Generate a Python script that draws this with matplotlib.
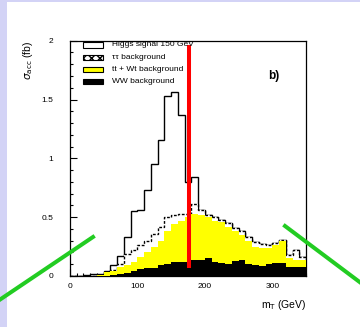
import numpy as np
import matplotlib
matplotlib.use("Agg")
import matplotlib.pyplot as plt
from matplotlib.patches import Rectangle
from matplotlib.lines import Line2D
from matplotlib.ticker import MultipleLocator

plt.rcParams['font.family'] = ['Liberation Sans', 'DejaVu Sans']

# transverse-mass bins (GeV)
bin_edges = np.arange(0, 351, 10)

# accepted cross sections per bin (fb), one array per process
ww_bkg = [0, 0, 0, 0, 0, 0, 0.005, 0.02, 0.025, 0.04, 0.06, 0.065, 0.07, 0.09,
          0.10, 0.12, 0.12, 0.12, 0.14, 0.14, 0.15, 0.12, 0.11, 0.10, 0.13, 0.135,
          0.10, 0.09, 0.085, 0.10, 0.11, 0.11, 0.08, 0.08, 0.08]
ttwt_bkg = [0, 0, 0, 0, 0.01, 0.03, 0.035, 0.06, 0.065, 0.08, 0.10, 0.135, 0.18,
            0.21, 0.28, 0.32, 0.35, 0.38, 0.39, 0.38, 0.35, 0.35, 0.35, 0.32, 0.25,
            0.215, 0.20, 0.16, 0.155, 0.14, 0.15, 0.19, 0.07, 0.06, 0.055]
tautau_bkg = [0, 0, 0, 0, 0, 0, 0.01, 0.02, 0.10, 0.10, 0.10, 0.10, 0.11, 0.12,
              0.12, 0.08, 0.06, 0.03, 0.08, 0.04, 0.02, 0.03, 0.02, 0.03, 0.03,
              0.03, 0.03, 0.04, 0.03, 0.02, 0.02, 0.01, 0.03, 0.08, 0.025]
higgs_signal = [0, 0, 0.005, 0.02, 0.01, 0.01, 0.04, 0.07, 0.14, 0.33, 0.30, 0.43,
                0.59, 0.74, 1.03, 1.04, 0.84, 0.27, 0.23, 0, 0, 0, 0, 0, 0, 0, 0,
                0, 0, 0, 0, 0, 0, 0, 0]

legend_labels = ["Higgs signal 150 GeV", "\u03c4\u03c4 background",
                 "tt + Wt background", "WW background"]
x_ticks = [0, 100, 200, 300]
y_ticks = [0, 0.5, 1, 1.5, 2]
y_ticklabels = ["0", "0.5", "1", "1.5", "2"]
cut_value = 176

# stacked levels
lvl_ww = np.array(ww_bkg)
lvl_tt = lvl_ww + np.array(ttwt_bkg)
lvl_tau = lvl_tt + np.array(tautau_bkg)
lvl_all = lvl_tau + np.array(higgs_signal)

fig = plt.figure(figsize=(3.6, 3.27), dpi=100)
fig.patch.set_facecolor("white")

# lavender slide frame
frame_col = "#d3d3f6"
fig.add_artist(Rectangle((0, 0), 7 / 360, 1, transform=fig.transFigure,
                         color=frame_col, lw=0, zorder=0))
fig.add_artist(Rectangle((0, 1 - 2 / 327), 1, 2 / 327, transform=fig.transFigure,
                         color=frame_col, lw=0, zorder=0))

ax = fig.add_axes([70 / 360, 1 - 276 / 327, 236 / 360, 235.3 / 327])

ax.stairs(lvl_all, bin_edges, fill=True, color="white", zorder=1)
ax.stairs(lvl_all, bin_edges, color="black", lw=1.0, zorder=1.1)
ax.stairs(lvl_tau, bin_edges, fill=True, color="white", zorder=2)
ax.stairs(lvl_tau, bin_edges, color="black", lw=1.0, ls=(0, (2, 1.2)), zorder=2.1)
ax.stairs(lvl_tt, bin_edges, fill=True, color="#ffff00", zorder=3)
ax.stairs(lvl_ww, bin_edges, fill=True, color="black", zorder=4)

ax.vlines(cut_value, 0.065, 1.96, color="#ff0000", lw=2.9, zorder=6)

ax.set_xlim(0, 350)
ax.set_ylim(0, 2)
ax.set_xticks(x_ticks)
ax.set_yticks(y_ticks)
ax.set_yticklabels(y_ticklabels)
ax.xaxis.set_minor_locator(MultipleLocator(10))
ax.yaxis.set_minor_locator(MultipleLocator(0.1))
ax.tick_params(axis="both", which="both", direction="in", labelsize=6,
               width=0.8, top=False, right=False)
ax.tick_params(axis="y", which="major", length=5, pad=12)
ax.tick_params(axis="y", which="minor", length=2.5)
ax.tick_params(axis="x", which="major", length=5, pad=5)
ax.tick_params(axis="x", which="minor", length=2.5)
for s in ax.spines.values():
    s.set_linewidth(0.9)

ax.set_xlabel(r"m$_{\rm T}$ (GeV)", fontsize=7.5, loc="right", labelpad=6)
ax.set_ylabel(r"$\sigma_{\rm acc}$ (fb)", fontsize=7.5, loc="top", labelpad=5)

ax.text(0.84, 0.85, "b)", transform=ax.transAxes, fontsize=8.5,
        fontweight="bold", ha="left", va="center", zorder=7)

# legend block
rows_y = [0.982, 0.928, 0.878, 0.826]
faces = ["white", "white", "#ffff00", "black"]
hatches = [None, "xxxx", None, None]
for yy, fc, hh, lab in zip(rows_y, faces, hatches, legend_labels):
    ax.add_patch(Rectangle((0.055, yy - 0.011), 0.085, 0.022, transform=ax.transAxes,
                           facecolor=fc, edgecolor="black", lw=0.8, hatch=hh,
                           zorder=7))
    ax.text(0.178, yy, lab, transform=ax.transAxes, fontsize=6,
            ha="left", va="center", zorder=7)

# green pointer lines
green = "#22cc22"
fig.add_artist(Line2D([-0.01, 93 / 360], [1 - 302 / 327, 1 - 237 / 327],
                      transform=fig.transFigure, color=green, lw=2.9, zorder=8))
fig.add_artist(Line2D([285 / 360, 1.01], [1 - 226 / 327, 1 - 285 / 327],
                      transform=fig.transFigure, color=green, lw=2.9, zorder=8))

fig.savefig("out.png", dpi=100)
